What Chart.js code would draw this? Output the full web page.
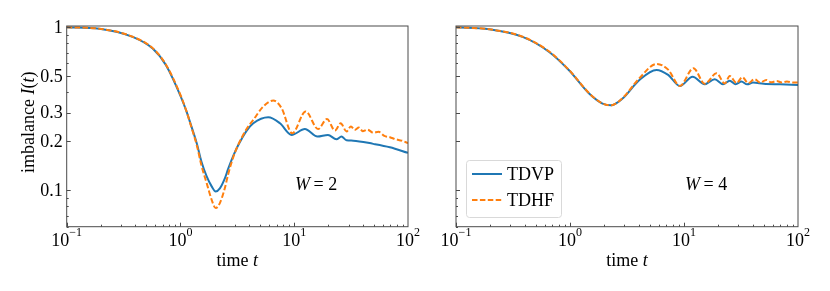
<!DOCTYPE html>
<html>
<head>
<meta charset="utf-8">
<script src="https://cdn.jsdelivr.net/npm/chart.js@4"></script>
<style>
  html, body { margin: 0; padding: 0; background: #fff; }
  #wrap { position: relative; width: 830px; height: 291px; }
  #wrap canvas { position: absolute; left: 0; top: 0; }
</style>
</head>
<body>
<div id="wrap">
  <canvas id="chartW2" width="830" height="291"></canvas>
  <canvas id="chartW4" width="830" height="291"></canvas>
</div>
<script>
// W = 2 panel
const tW2Vp = [0.1, 0.193, 0.38, 0.57, 0.746, 1.0, 1.13, 1.25, 1.39, 1.53, 1.70, 1.88, 2.04, 2.22, 2.46, 2.62, 2.91, 3.2, 3.45, 3.81, 4.37, 5.91, 7.49, 9.48, 12.4, 16.0, 19.8, 23.5, 26.0, 28.8, 33, 49.5, 69.3, 100];
const iW2Vp = [1.0, 0.98, 0.873, 0.74, 0.585, 0.38, 0.305, 0.246, 0.195, 0.15, 0.122, 0.106, 0.0986, 0.103, 0.119, 0.135, 0.163, 0.188, 0.207, 0.232, 0.258, 0.281, 0.258, 0.219, 0.238, 0.214, 0.219, 0.206, 0.214, 0.203, 0.202, 0.193, 0.184, 0.170];
const tW2Hf = [0.1, 0.193, 0.38, 0.57, 0.746, 1.0, 1.13, 1.25, 1.39, 1.53, 1.70, 1.88, 2.04, 2.22, 2.46, 2.62, 2.91, 3.2, 3.45, 3.81, 4.37, 5.34, 6.54, 7.75, 9.6, 12.6, 16.2, 19.4, 22.8, 25.6, 28.8, 31.5, 34, 37, 40, 44, 49.5, 55, 62, 69.3, 78, 88, 100];
const iW2Hf = [1.0, 0.98, 0.875, 0.745, 0.59, 0.385, 0.305, 0.243, 0.19, 0.142, 0.111, 0.0877, 0.078, 0.0837, 0.104, 0.125, 0.16, 0.189, 0.21, 0.238, 0.271, 0.327, 0.356, 0.319, 0.224, 0.305, 0.238, 0.274, 0.233, 0.258, 0.23, 0.247, 0.235, 0.243, 0.231, 0.236, 0.226, 0.229, 0.216, 0.212, 0.206, 0.202, 0.195];

// W = 4 panel
const tW4Vp = [0.1, 0.196, 0.384, 0.657, 0.98, 1.47, 1.93, 2.28, 2.89, 4.04, 5.74, 7.26, 9.2, 11.9, 15.2, 18.6, 22.0, 25.2, 28.4, 31.9, 35.8, 40.3, 50, 70, 100];
const iW4Vp = [1.0, 0.972, 0.873, 0.706, 0.545, 0.393, 0.341, 0.333, 0.366, 0.474, 0.548, 0.511, 0.437, 0.498, 0.448, 0.481, 0.448, 0.471, 0.448, 0.465, 0.447, 0.458, 0.451, 0.447, 0.443];
const tW4Hf = [0.1, 0.196, 0.384, 0.657, 0.98, 1.47, 1.93, 2.28, 2.89, 4.04, 5.74, 7.26, 9.2, 12.1, 15.2, 19.3, 22.8, 25.2, 28.9, 32.5, 36.6, 41.7, 46.5, 52.7, 58, 65, 72, 80, 90, 100];
const iW4Hf = [1.0, 0.972, 0.875, 0.71, 0.548, 0.395, 0.341, 0.332, 0.368, 0.485, 0.596, 0.55, 0.437, 0.561, 0.45, 0.523, 0.452, 0.503, 0.455, 0.494, 0.455, 0.481, 0.458, 0.476, 0.46, 0.468, 0.459, 0.465, 0.458, 0.458];

const seriesNames = ['TDVP', 'TDHF'];
const seriesColors = ['#1f77b4', '#ff7f0e'];
const xMajor = [0.1, 1, 10, 100];
const xMajorExp = ['\u22121', '0', '1', '2'];
const yMajor = [1, 0.5, 0.3, 0.2, 0.1];
const yMajorLabels = ['1', '0.5', '0.3', '0.2', '0.1'];
const yMinor = [0.06, 0.07, 0.08, 0.09, 0.4, 0.6, 0.7, 0.8, 0.9];

const SERIF = '"Liberation Serif", "DejaVu Serif", serif';

function pts(ts, vs) { return ts.map((t, i) => ({ x: t, y: vs[i] })); }

function drawMixed(ctx, parts, x, y, size) {
    // parts: [text, italic]
    let cx = x;
    parts.forEach(([txt, it]) => {
        ctx.font = (it ? 'italic ' : '') + size + 'px ' + SERIF;
        ctx.fillText(txt, cx, y);
        cx += ctx.measureText(txt).width;
    });
    return cx - x;
}
function mixedWidth(ctx, parts, size) {
    let w = 0;
    parts.forEach(([txt, it]) => {
        ctx.font = (it ? 'italic ' : '') + size + 'px ' + SERIF;
        w += ctx.measureText(txt).width;
    });
    return w;
}

const framePlugin = {
    id: 'frame',
    afterDraw(chart, args, opts) {
        const { ctx, chartArea: a, scales: { x, y } } = chart;
        ctx.save();
        ctx.strokeStyle = '#4a4a4a';
        ctx.lineWidth = 1;
        ctx.strokeRect(a.left, a.top, a.right - a.left, a.bottom - a.top);

        // inward ticks
        ctx.beginPath();
        for (let d = 0.1; d < 100; d *= 10) {
            for (let k = 1; k <= 9; k++) {
                const v = d * k;
                const px = Math.round(x.getPixelForValue(v)) + 0.5;
                const len = k === 1 ? 4 : 2;
                ctx.moveTo(px, a.bottom); ctx.lineTo(px, a.bottom - len);
            }
        }
        yMajor.forEach(v => {
            const py = Math.round(y.getPixelForValue(v)) + 0.5;
            ctx.moveTo(a.left, py); ctx.lineTo(a.left + 4, py);
        });
        yMinor.forEach(v => {
            const py = Math.round(y.getPixelForValue(v)) + 0.5;
            ctx.moveTo(a.left, py); ctx.lineTo(a.left + 2, py);
        });
        ctx.stroke();

        ctx.fillStyle = '#000';
        ctx.textBaseline = 'alphabetic';
        // x tick labels 10^n
        xMajor.forEach((v, i) => {
            const px = x.getPixelForValue(v);
            ctx.font = '18px ' + SERIF;
            const w1 = ctx.measureText('10').width;
            ctx.font = '12px ' + SERIF;
            const w2 = ctx.measureText(xMajorExp[i]).width;
            const x0 = px - (w1 + w2) / 2;
            ctx.font = '18px ' + SERIF;
            ctx.textAlign = 'left';
            ctx.fillText('10', x0, 246);
            ctx.font = '12px ' + SERIF;
            ctx.fillText(xMajorExp[i], x0 + w1, 236);
        });
        // x title
        const xt = [['time ', false], ['t', true]];
        const xtw = mixedWidth(ctx, xt, 18);
        ctx.textAlign = 'left';
        drawMixed(ctx, xt, (a.left + a.right) / 2 - xtw / 2, 266, 18);

        if (opts.yLabels) {
            ctx.font = '18px ' + SERIF;
            ctx.textAlign = 'right';
            ctx.textBaseline = 'middle';
            yMajor.forEach((v, i) => {
                ctx.fillText(yMajorLabels[i], a.left - 4, y.getPixelForValue(v) + 1);
            });
            ctx.textBaseline = 'alphabetic';
            ctx.textAlign = 'left';
            const yt = [['imbalance ', false], ['I', true], ['(', false], ['t', true], [')', false]];
            const ytw = mixedWidth(ctx, yt, 18);
            ctx.save();
            ctx.translate(34, (a.top + a.bottom) / 2 - 4);
            ctx.rotate(-Math.PI / 2);
            drawMixed(ctx, yt, -ytw / 2, 0, 18);
            ctx.restore();
        }

        // W annotation
        ctx.textAlign = 'left';
        drawMixed(ctx, [['W', true], ['\u2009= ' + opts.w, false]], opts.wx, 190, 18);

        if (opts.legend) {
            const lx = 466, ly = 160, lw = 95, lh = 57, r = 3;
            ctx.beginPath();
            ctx.roundRect(lx + 0.5, ly + 0.5, lw, lh, r);
            ctx.fillStyle = 'rgba(255,255,255,0.8)';
            ctx.fill();
            ctx.strokeStyle = '#d9d9d9';
            ctx.stroke();
            seriesNames.forEach((name, i) => {
                const yy = 174 + i * 26;
                ctx.beginPath();
                ctx.strokeStyle = seriesColors[i];
                ctx.lineWidth = 2;
                ctx.setLineDash(i === 1 ? [5.5, 2.4] : []);
                ctx.moveTo(472, yy); ctx.lineTo(502, yy);
                ctx.stroke();
                ctx.setLineDash([]);
                ctx.fillStyle = '#000';
                ctx.font = '18px ' + SERIF;
                ctx.textBaseline = 'middle';
                ctx.fillText(name, 507, yy + 1);
            });
        }
        ctx.restore();
    }
};

function makeChart(id, vp, hf, left, right, opts) {
    return new Chart(document.getElementById(id), {
        type: 'line',
        data: {
            datasets: [
                { label: seriesNames[0], data: vp, borderColor: seriesColors[0], borderWidth: 2, pointRadius: 0, cubicInterpolationMode: 'monotone', order: 2 },
                { label: seriesNames[1], data: hf, borderColor: seriesColors[1], borderWidth: 2, borderDash: [5.5, 2.4], pointRadius: 0, cubicInterpolationMode: 'monotone', order: 1 }
            ]
        },
        options: {
            responsive: false,
            animation: false,
            layout: { padding: { left: 0, right: right, top: 26, bottom: 0 } },
            plugins: { legend: { display: false }, tooltip: { enabled: false }, frame: opts },
            scales: {
                x: {
                    type: 'logarithmic', min: 0.1, max: 100, bounds: 'data',
                    ticks: { display: false }, grid: { display: false, drawTicks: false }, border: { display: false },
                    afterFit: s => { s.height = 291 - 226.7; }
                },
                y: {
                    type: 'logarithmic', min: 0.06, max: 1.018, bounds: 'data',
                    ticks: { display: false }, grid: { display: false, drawTicks: false }, border: { display: false },
                    afterFit: s => { s.width = left; }
                }
            }
        },
        plugins: [framePlugin]
    });
}

makeChart('chartW2', pts(tW2Vp, iW2Vp), pts(tW2Hf, iW2Hf), 66.7, 422, { yLabels: true, legend: false, w: '2', wx: 295 });
makeChart('chartW4', pts(tW4Vp, iW4Vp), pts(tW4Hf, iW4Hf), 456, 32, { yLabels: false, legend: true, w: '4', wx: 685 });
</script>
</body>
</html>
